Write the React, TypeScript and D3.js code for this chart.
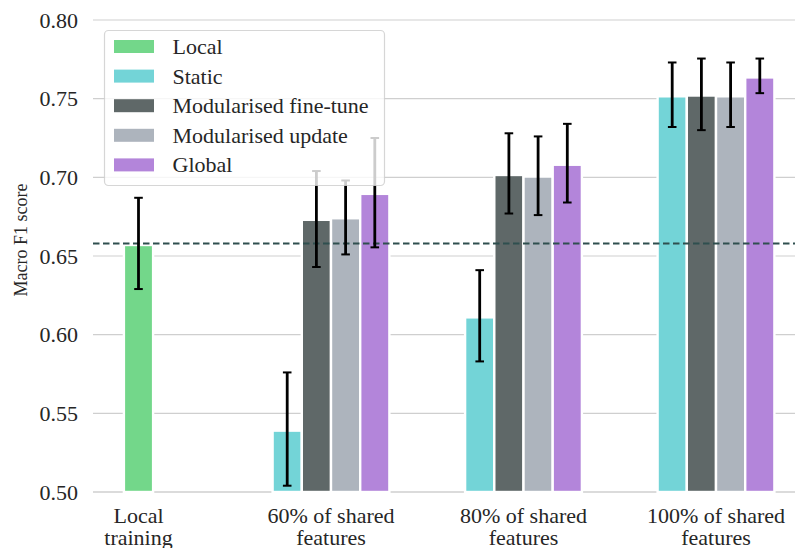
import * as d3 from "d3";

// x categories
const groups = ["Local training", "60% of shared features", "80% of shared features", "100% of shared features"];
const groupLabelLines = [
  ["Local", "training"],
  ["60% of shared", "features"],
  ["80% of shared", "features"],
  ["100% of shared", "features"],
];

// legend series
const seriesNames = ["Local", "Static", "Modularised fine-tune", "Modularised update", "Global"];
const seriesColors = ["#73d78a", "#73d4d7", "#5f6868", "#adb4bd", "#b385da"];

// local training (single bar)
const localMean = 0.657;
const localLo = 0.629;
const localHi = 0.687;

// shared-feature groups: 60%, 80%, 100%
const staticMean = [0.539, 0.611, 0.7515];
const staticLo = [0.504, 0.583, 0.732];
const staticHi = [0.576, 0.641, 0.773];

const fineTuneMean = [0.673, 0.7015, 0.752];
const fineTuneLo = [0.643, 0.677, 0.730];
const fineTuneHi = [0.704, 0.728, 0.7755];

const updateMean = [0.674, 0.7005, 0.7515];
const updateLo = [0.651, 0.676, 0.732];
const updateHi = [0.698, 0.726, 0.773];

const globalMean = [0.6895, 0.708, 0.7635];
const globalLo = [0.6555, 0.684, 0.7535];
const globalHi = [0.725, 0.734, 0.7755];

const baselineValue = 0.658;

const width = 795;
const height = 548;
const plotLeft = 93;
const plotRight = 795;
const plotTop = 20;
const plotBottom = 492;
const font = "Liberation Serif";
const textColor = "#262626";

export default function App() {
  const y = d3.scaleLinear().domain([0.5, 0.8]).range([plotBottom, plotTop]);
  const yTicks = y.ticks(6);

  const x = d3.scalePoint<string>().domain(groups).range([138.5, 716]);

  const sharedSeries = seriesNames.slice(1);
  const sub = d3.scaleBand<string>().domain(sharedSeries).range([-58.4, 58.4]).padding(0);
  const bw = sub.bandwidth();

  const sharedMeans = [staticMean, fineTuneMean, updateMean, globalMean];
  const sharedLos = [staticLo, fineTuneLo, updateLo, globalLo];
  const sharedHis = [staticHi, fineTuneHi, updateHi, globalHi];

  type Bar = { cx: number; mean: number; lo: number; hi: number; color: string; key: string };
  const bars: Bar[] = [];
  bars.push({
    cx: x(groups[0])!,
    mean: localMean,
    lo: localLo,
    hi: localHi,
    color: seriesColors[0],
    key: "local",
  });
  groups.slice(1).forEach((g, gi) => {
    sharedSeries.forEach((s, si) => {
      bars.push({
        cx: x(g)! + sub(s)! + bw / 2,
        mean: sharedMeans[si][gi],
        lo: sharedLos[si][gi],
        hi: sharedHis[si][gi],
        color: seriesColors[si + 1],
        key: `${g}-${s}`,
      });
    });
  });

  const capHalf = 4.3;
  const legendX = 104.5;
  const legendY = 30.5;
  const rowGap = 29.6;

  return (
    <svg
      width={width}
      height={height}
      style={{ position: "absolute", left: 0, top: 0 }}
    >
      <rect x={0} y={0} width={width} height={height} fill="#ffffff" />

      {yTicks.map((t) => (
        <g key={t}>
          <line
            x1={plotLeft}
            x2={plotRight}
            y1={y(t)}
            y2={y(t)}
            stroke="#cfcfcf"
            strokeWidth={t === 0.5 ? 1.6 : 1.1}
          />
          <text
            x={78}
            y={y(t)}
            textAnchor="end"
            dominantBaseline="central"
            fontFamily={font}
            fontSize={22}
            fill={textColor}
          >
            {d3.format(".2f")(t)}
          </text>
        </g>
      ))}

      {bars.map((b) => (
        <rect
          key={b.key}
          x={b.cx - bw / 2}
          y={y(b.mean)}
          width={bw}
          height={y(0.5) - y(b.mean)}
          fill={b.color}
          stroke="#ffffff"
          strokeWidth={2.4}
        />
      ))}

      <line
        x1={plotLeft}
        x2={plotRight}
        y1={y(baselineValue)}
        y2={y(baselineValue)}
        stroke="#2f4f4f"
        strokeWidth={2}
        strokeDasharray="6.5 3.5"
      />

      {bars.map((b) => (
        <g key={`err-${b.key}`} stroke="#000000">
          <line x1={b.cx} x2={b.cx} y1={y(b.hi)} y2={y(b.lo)} strokeWidth={2.8} />
          <line x1={b.cx - capHalf} x2={b.cx + capHalf} y1={y(b.hi)} y2={y(b.hi)} strokeWidth={2} />
          <line x1={b.cx - capHalf} x2={b.cx + capHalf} y1={y(b.lo)} y2={y(b.lo)} strokeWidth={2} />
        </g>
      ))}

      {groups.map((g, i) => (
        <text
          key={g}
          x={x(g)!}
          y={523}
          textAnchor="middle"
          fontFamily={font}
          fontSize={22}
          fill={textColor}
        >
          {groupLabelLines[i].map((line, li) => (
            <tspan key={li} x={x(g)!} dy={li === 0 ? 0 : 21.5}>
              {line}
            </tspan>
          ))}
        </text>
      ))}

      <text
        transform={`translate(27, 240) rotate(-90)`}
        textAnchor="middle"
        fontFamily={font}
        fontSize={18}
        fill={textColor}
      >
        Macro F1 score
      </text>

      <g>
        <rect
          x={legendX}
          y={legendY}
          width={280}
          height={155}
          rx={4}
          fill="#ffffff"
          fillOpacity={0.8}
          stroke="#cccccc"
          strokeOpacity={0.8}
          strokeWidth={1.2}
        />
        {seriesNames.map((s, i) => {
          const cy = legendY + 16 + i * rowGap;
          return (
            <g key={s}>
              <rect x={legendX + 9.5} y={cy - 6.5} width={40} height={13} fill={seriesColors[i]} />
              <text
                x={legendX + 68}
                y={cy}
                dominantBaseline="central"
                fontFamily={font}
                fontSize={22}
                fill={textColor}
              >
                {s}
              </text>
            </g>
          );
        })}
      </g>
    </svg>
  );
}
